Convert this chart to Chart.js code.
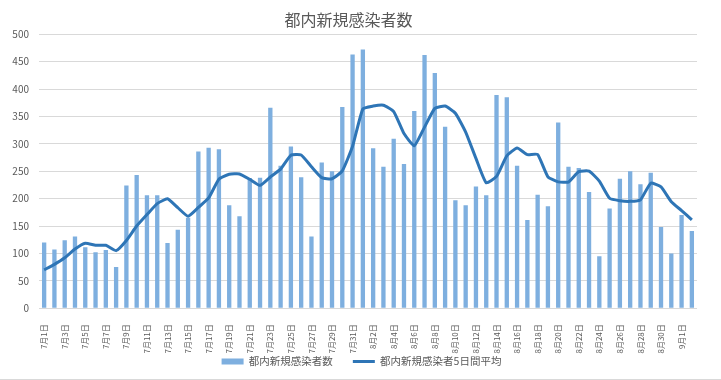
<!DOCTYPE html>
<html>
<head>
<meta charset="utf-8">
<script src="https://cdn.jsdelivr.net/npm/chart.js@4.4.0/dist/chart.umd.min.js"></script>
<style>
  body { margin: 0; background: #fff; }
  #wrap { width: 721px; height: 379px; border-bottom: 1px solid #d9d9d9; }
</style>
</head>
<body>
<div id="wrap"><canvas id="c" width="721" height="379"></canvas></div>
<script>
// dates Jul 1 .. Sep 2
const days = [];
for (let d = 1; d <= 31; d++) days.push('7月' + d + '日');
for (let d = 1; d <= 31; d++) days.push('8月' + d + '日');
days.push('9月1日', '9月2日');

const dailyCases = [
  120, 107, 124, 131, 111, 102, 106, 75, 224, 243,
  206, 206, 119, 143, 165, 286, 293, 290, 188, 168,
  237, 238, 366, 260, 295, 239, 131, 266, 250, 367,
  463, 472, 292, 258, 309, 263, 360, 462, 429, 331,
  197, 188, 222, 206, 389, 385, 260, 161, 207, 186,
  339, 258, 256, 212, 95, 182, 236, 250, 226, 247,
  148, 100, 170, 141
];

const avg5 = [
  70, 80, 92, 108, 118.6, 115, 114.8, 105, 123.6, 150,
  170.8, 190.8, 199.6, 183.4, 167.8, 183.8, 201.2, 235.4, 244.4, 245,
  235.2, 224.2, 239.4, 253.8, 279.2, 279.6, 258.2, 238.2, 236.2, 250.6,
  295.4, 363.6, 368.8, 370.4, 358.8, 318.8, 296.4, 330.4, 364.6, 369,
  355.8, 321.4, 273.4, 228.8, 240.4, 278, 292.4, 280.2, 280.4, 239.8,
  230.6, 230.2, 249.2, 250.2, 232, 200.6, 196.2, 195, 197.8, 228.2,
  221.4, 194.2, 178.2, 161.2
];

const yTicks = [0, 50, 100, 150, 200, 250, 300, 350, 400, 450, 500];

const textColor = '#595959';
const fontFamily = '"Noto Sans CJK JP", "Noto Sans", sans-serif';

// legend keeps a wide gap between items but sits close under the axis labels
const legendShift = {
  id: 'legendShift',
  afterLayout(chart) {
    chart.legend.top -= 22;
    chart.legend.left += 26;
  }
};

const ctx = document.getElementById('c').getContext('2d');
const chart = new Chart(ctx, {
  type: 'bar',
  data: {
    labels: days,
    datasets: [
      {
        type: 'bar',
        label: '都内新規感染者数',
        data: dailyCases,
        backgroundColor: '#7eafdf',
        borderWidth: 0,
        categoryPercentage: 1,
        barPercentage: 0.42,
        pointStyle: 'rect',
        order: 2
      },
      {
        type: 'line',
        label: '都内新規感染者5日間平均',
        data: avg5,
        borderColor: '#2e75b6',
        backgroundColor: '#2e75b6',
        borderWidth: 3,
        pointRadius: 0,
        tension: 0.15,
        pointStyle: 'line',
        order: 1
      }
    ]
  },
  options: {
    responsive: false,
    animation: false,
    layout: { padding: { left: 0, right: 24, top: 0, bottom: 0 } },
    plugins: {
      tooltip: { enabled: false },
      title: {
        display: true,
        text: '都内新規感染者数',
        color: textColor,
        font: { family: fontFamily, size: 16, weight: 'normal' },
        padding: { top: 10, bottom: 5 }
      },
      legend: {
        position: 'bottom',
        maxHeight: 20.8,
        labels: {
          color: textColor,
          font: { family: fontFamily, size: 10.5 },
          usePointStyle: true,
          pointStyleWidth: 22,
          boxHeight: 6,
          padding: 20,
          sort: (a, b) => a.datasetIndex - b.datasetIndex
        }
      }
    },
    scales: {
      x: {
        grid: { display: false },
        border: { display: false },
        ticks: {
          color: textColor,
          font: { family: fontFamily, size: 8 },
          autoSkip: false,
          minRotation: 90,
          maxRotation: 90,
          padding: 8,
          callback: function (val, i) { return i % 2 === 0 ? days[i] : ''; }
        },
        afterFit: function (scale) { scale.height = 50; }
      },
      y: {
        min: 0,
        max: 500,
        afterBuildTicks: function (scale) { scale.ticks = yTicks.map(v => ({ value: v })); },
        grid: { color: '#d9d9d9', drawTicks: false },
        border: { display: false },
        ticks: {
          color: textColor,
          font: { family: fontFamily, size: 10 },
          padding: 10
        },
        afterFit: function (scale) { scale.width = 39; }
      }
    }
  },
  plugins: [legendShift]
});
</script>
</body>
</html>
